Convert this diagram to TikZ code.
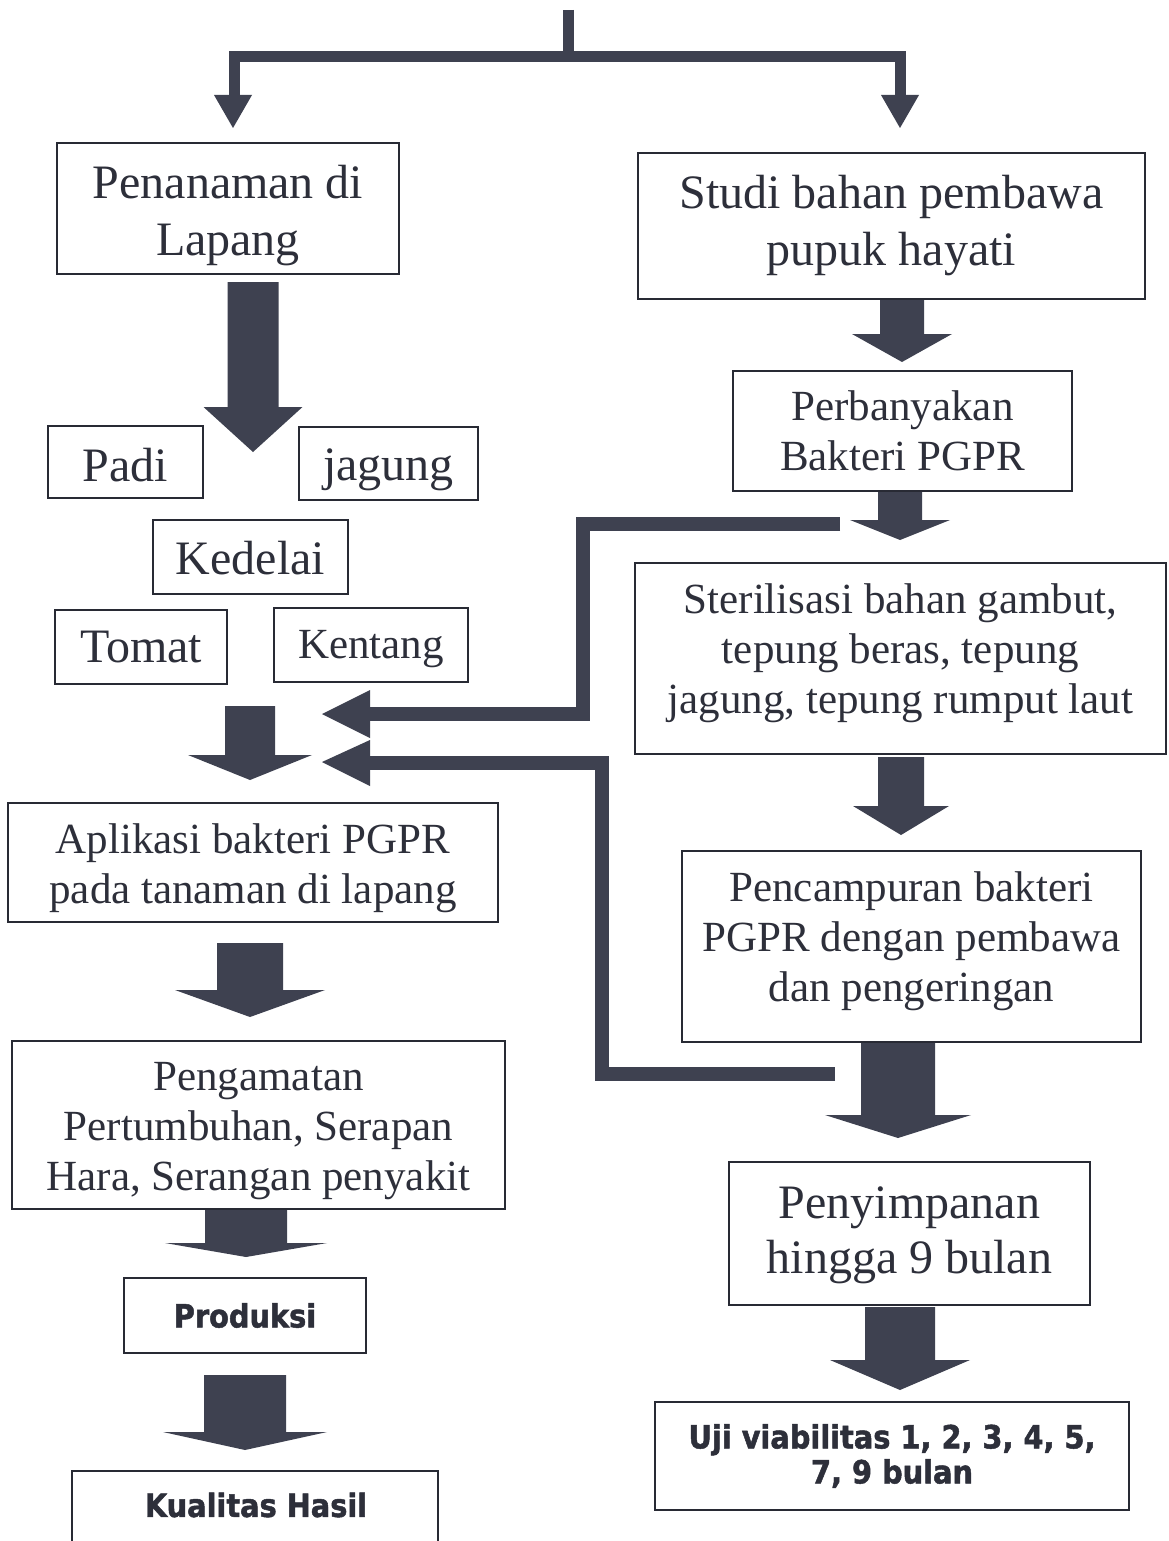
\documentclass[tikz,border=0pt]{standalone}
\usepackage{fontspec}
\setmainfont{Liberation Serif}
\newfontfamily\bsans{DejaVu Sans}[FakeStretch=0.9, BoldFeatures={FakeBold=1.5}]
\usetikzlibrary{calc}
\definecolor{arrc}{RGB}{62,65,80}
\definecolor{txtc}{RGB}{45,47,58}
\definecolor{linec}{RGB}{40,42,52}
\newcommand\blockarrow[6]{\fill[arrc] ({#1-#4},#2) -- ({#1+#4},#2) -- ({#1+#4},{#3-#6}) -- ({#1+#5},{#3-#6}) -- (#1,#3) -- ({#1-#5},{#3-#6}) -- ({#1-#4},{#3-#6}) -- cycle;}
\begin{document}
\begin{tikzpicture}[x=1pt,y=-1pt,
 box/.style={draw=linec, line width=2pt, inner sep=0pt},
 txt/.style={text=txtc, align=center, inner sep=0pt},
 big/.style={font=\fontsize{48}{57}\selectfont},
 mid/.style={font=\fontsize{43}{50}\selectfont},
 bs/.style={font=\bsans\bfseries\fontsize{32}{35}\selectfont},
 fb/.style={draw=arrc, line width=14pt},
]
\useasboundingbox (0,0) rectangle (1168,1541);
\fill[white] (0,0) rectangle (1168,1541);

% boxes
\node[box,minimum width=342pt,minimum height=131pt] (pen) at (228,208.5) {};
\node[txt,big] (pent) at ([yshift=-7pt]pen.center) {Penanaman di\\Lapang};
\node[box,minimum width=507pt,minimum height=146pt] (studi) at (891.5,226) {};
\node[txt,big] (studit) at (studi.center) {Studi bahan pembawa\\pupuk hayati};
\node[box,minimum width=339pt,minimum height=120pt] (perb) at (902.5,431) {};
\node[txt,mid] (perbt) at (perb.center) {Perbanyakan\\Bakteri PGPR};
\node[box,minimum width=155pt,minimum height=72pt] (padi) at (125.5,462) {};
\node[txt,big] (padit) at ([yshift=-3pt]padi.center) {Padi};
\node[box,minimum width=179pt,minimum height=73pt] (jagung) at (388.5,463.5) {};
\node[txt,big] (jagungt) at ([yshift=-6pt]jagung.center) {jagung};
\node[box,minimum width=195pt,minimum height=74pt] (kedelai) at (250.5,557) {};
\node[txt,big] (kedelait) at ([yshift=-1pt]kedelai.center) {Kedelai};
\node[box,minimum width=172pt,minimum height=74pt] (tomat) at (141,647) {};
\node[txt,big] (tomatt) at (tomat.center) {Tomat};
\node[box,minimum width=194pt,minimum height=74pt] (kentang) at (371,645) {};
\node[txt,mid] (kentangt) at ([yshift=-4pt]kentang.center) {Kentang};
\node[box,minimum width=531pt,minimum height=191pt] (steril) at (900.5,658.5) {};
\node[txt,mid] (sterilt) at ([yshift=5pt]steril.center) {Sterilisasi bahan gambut,\\tepung beras, tepung\\jagung, tepung rumput laut};
\node[box,minimum width=490pt,minimum height=119pt] (apl) at (253,862.5) {};
\node[txt,mid] (aplt) at ([yshift=-6pt]apl.center) {Aplikasi bakteri PGPR\\pada tanaman di lapang};
\node[box,minimum width=459pt,minimum height=191pt] (pencamp) at (911.5,946.5) {};
\node[txt,mid] (pencampt) at ([yshift=5pt]pencamp.center) {Pencampuran bakteri\\PGPR dengan pembawa\\dan pengeringan};
\node[box,minimum width=493pt,minimum height=168pt] (amat) at (258.5,1125) {};
\node[txt,mid] (amatt) at ([yshift=-6pt]amat.center) {Pengamatan\\Pertumbuhan, Serapan\\Hara, Serangan penyakit};
\node[box,minimum width=242pt,minimum height=75pt] (prod) at (245,1315.5) {};
\node[txt,bs] (prodt) at (prod.center) {Produksi};
\node[box,minimum width=361pt,minimum height=143pt] (simpan) at (909.5,1233.5) {};
\node[txt,font=\fontsize{48}{55}\selectfont] (simpant) at ([yshift=-2pt]simpan.center) {Penyimpanan\\hingga 9 bulan};
\node[box,minimum width=474pt,minimum height=108pt] (uji) at (892,1456) {};
\node[txt,bs] (ujit) at (uji.center) {Uji viabilitas 1, 2, 3, 4, 5,\\7, 9 bulan};
\draw[linec, line width=2pt] (72,1560) -- (72,1471) -- (438,1471) -- (438,1560);
\node[txt,bs] (kual) at (256,1505) {Kualitas Hasil};

% top split connector
\coordinate (topstart) at (568,10);
\coordinate (split) at (568,57);
\draw[arrc, line width=11pt] (topstart) -- (split);
\draw[arrc, line width=11pt] (234,97) -- (234,57) -- (900,57) -- (900,97);
\fill[arrc] (214,95) -- (252,95) -- (233,128) -- cycle;
\fill[arrc] (881,95) -- (919,95) -- (900,128) -- cycle;

% block arrows: x, top, tip, shaft half width, head half width, head length
\blockarrow{253}{282}{452}{25.5}{49.5}{45}
\blockarrow{902}{300}{362}{22}{50}{28}
\blockarrow{900}{492}{540}{22}{50}{20}
\blockarrow{901}{757}{835}{23}{48}{29}
\blockarrow{898}{1043}{1138}{37}{73}{23}
\blockarrow{900}{1307}{1390}{35}{70}{30}
\blockarrow{250}{706}{780}{25}{62}{25}
\blockarrow{250}{943}{1017}{33}{75}{27}
\blockarrow{246}{1210}{1257}{41}{81}{14}
\blockarrow{245}{1375}{1450}{41}{82}{18}

% feedback arrows
\coordinate (fb1s) at (840,524);
\coordinate (fb1e) at (368,714);
\draw[fb] (fb1s) -- (583,524) -- (583,714) -- (fb1e);
\fill[arrc] (370,690) -- (322,714) -- (370,738) -- cycle;
\coordinate (fb2s) at (835,1074);
\coordinate (fb2e) at (368,763);
\draw[fb] (fb2s) -- (602,1074) -- (602,763) -- (fb2e);
\fill[arrc] (370,740) -- (322,762) -- (370,786) -- cycle;
\end{tikzpicture}
\end{document}
